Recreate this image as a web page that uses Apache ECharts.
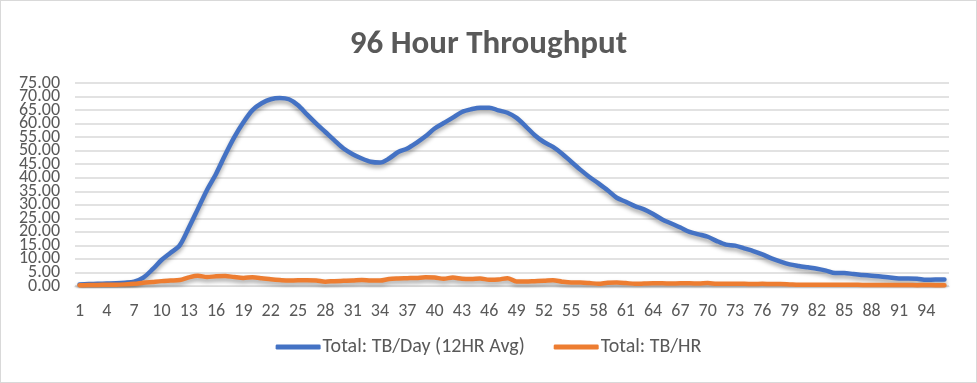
<!DOCTYPE html>
<html>
<head>
<meta charset="utf-8">
<script src="https://cdn.jsdelivr.net/npm/echarts@6/dist/echarts.min.js"></script>
<style>
html,body{margin:0;padding:0;background:#fff;}
#chart{width:975px;height:381px;border:1px solid #d9d9d9;}
</style>
</head>
<body>
<div id="chart"></div>
<script>
var categories = [];
for (var i = 1; i <= 96; i++) categories.push(String(i));

var yTicks = [0,5,10,15,20,25,30,35,40,45,50,55,60,65,70,75];

var tbDay = [0.6,0.7,0.8,0.9,1.0,1.2,1.6,3.1,6.1,9.6,12.3,15.0,
  21.5,28.5,35.5,41.5,48.5,55.0,60.5,65.0,67.5,69.0,69.5,69.0,
  66.8,63.3,60.0,56.9,53.8,50.8,48.7,47.1,45.9,45.6,47.1,49.5,
  50.8,52.9,55.3,58.2,60.2,62.2,64.3,65.3,65.9,65.9,64.9,64.0,
  62.1,59.0,55.7,53.2,51.4,48.9,45.9,43.0,40.3,37.9,35.4,32.6,
  31.1,29.5,28.3,26.6,24.6,23.1,21.6,20.0,19.1,18.2,16.6,15.3,
  14.9,13.9,12.9,11.7,10.2,9.0,8.0,7.4,6.9,6.4,5.7,4.8,
  4.8,4.4,4.1,3.8,3.5,3.1,2.8,2.8,2.7,2.3,2.4,2.4];

var tbHr = [0.3,0.4,0.4,0.5,0.5,0.6,0.8,1.2,1.5,1.8,2.0,2.2,
  3.2,3.8,3.3,3.6,3.7,3.3,3.0,3.2,2.9,2.5,2.2,2.0,
  2.1,2.1,2.0,1.6,1.8,1.9,2.0,2.2,2.0,2.0,2.6,2.8,
  2.9,3.0,3.2,3.1,2.7,3.1,2.7,2.6,2.8,2.3,2.4,2.9,
  1.7,1.7,1.8,1.9,2.1,1.6,1.3,1.3,1.1,0.8,1.2,1.3,
  1.1,0.8,0.9,1.0,1.0,0.9,1.0,1.0,0.9,1.1,0.8,0.8,
  0.8,0.8,0.7,0.8,0.7,0.7,0.6,0.5,0.5,0.5,0.5,0.5,
  0.5,0.5,0.4,0.4,0.4,0.4,0.4,0.4,0.3,0.4,0.3,0.3];

var titleText = '96 Hour Throughput';
var seriesNames = ['Total: TB/Day (12HR Avg)', 'Total: TB/HR'];

var chart = echarts.init(document.getElementById('chart'));
var font = 'Calibri, Carlito, "Open Sans", "Noto Sans", sans-serif';
chart.setOption({
  animation: false,
  backgroundColor: '#ffffff',
  title: {
    text: titleText, left: 'center', top: 22,
    textStyle: {fontFamily: font, fontSize: 33, fontWeight: 'bold', color: '#595959'}
  },
  legend: {
    bottom: 20, left: 'center', itemWidth: 45, itemHeight: 5, itemGap: 29,
    icon: 'roundRect',
    textStyle: {fontFamily: font, fontSize: 20, color: '#595959', padding: [0,0,0,-3]},
    data: seriesNames
  },
  grid: {left: 74, right: 27, top: 82, bottom: 96, containLabel: false},
  xAxis: {
    type: 'category', data: categories, boundaryGap: true,
    axisLine: {lineStyle: {color: '#d9d9d9', width: 1}},
    axisTick: {show: false},
    axisLabel: {interval: 2, fontFamily: font, fontSize: 18, color: '#595959', margin: 16}
  },
  yAxis: {
    type: 'value', min: yTicks[0], max: yTicks[yTicks.length - 1], interval: 5,
    axisLine: {show: false}, axisTick: {show: false},
    splitLine: {lineStyle: {color: '#d9d9d9', width: 1.5}},
    axisLabel: {show: false}
  },
  series: [
    {name: seriesNames[0], type: 'line', data: tbDay, symbol: 'none', smooth: 0.3,
     itemStyle: {color: '#4472c4'},
     lineStyle: {width: 4.5, color: '#4472c4', cap: 'round', join: 'round',
       shadowColor: 'rgba(0,0,0,0.35)', shadowBlur: 4, shadowOffsetY: 3}},
    {name: seriesNames[1], type: 'line', data: tbHr, symbol: 'none', smooth: 0.3,
     itemStyle: {color: '#ed7d31'},
     lineStyle: {width: 4.5, color: '#ed7d31', cap: 'round', join: 'round',
       shadowColor: 'rgba(0,0,0,0.35)', shadowBlur: 4, shadowOffsetY: 3}}
  ]
});

// y-axis tick labels placed through the axis scale (they overlap slightly, as in the original)
var labelRight = chart.convertToPixel({xAxisIndex: 0}, categories[0]) - 4.5 - 15;
chart.setOption({
  graphic: yTicks.map(function (v) {
    return {
      type: 'text', silent: true,
      x: 59, y: chart.convertToPixel({yAxisIndex: 0}, v),
      style: {text: v.toFixed(2), align: 'right', verticalAlign: 'middle',
        font: '18px ' + font, fill: '#595959'}
    };
  })
});
</script>
</body>
</html>
